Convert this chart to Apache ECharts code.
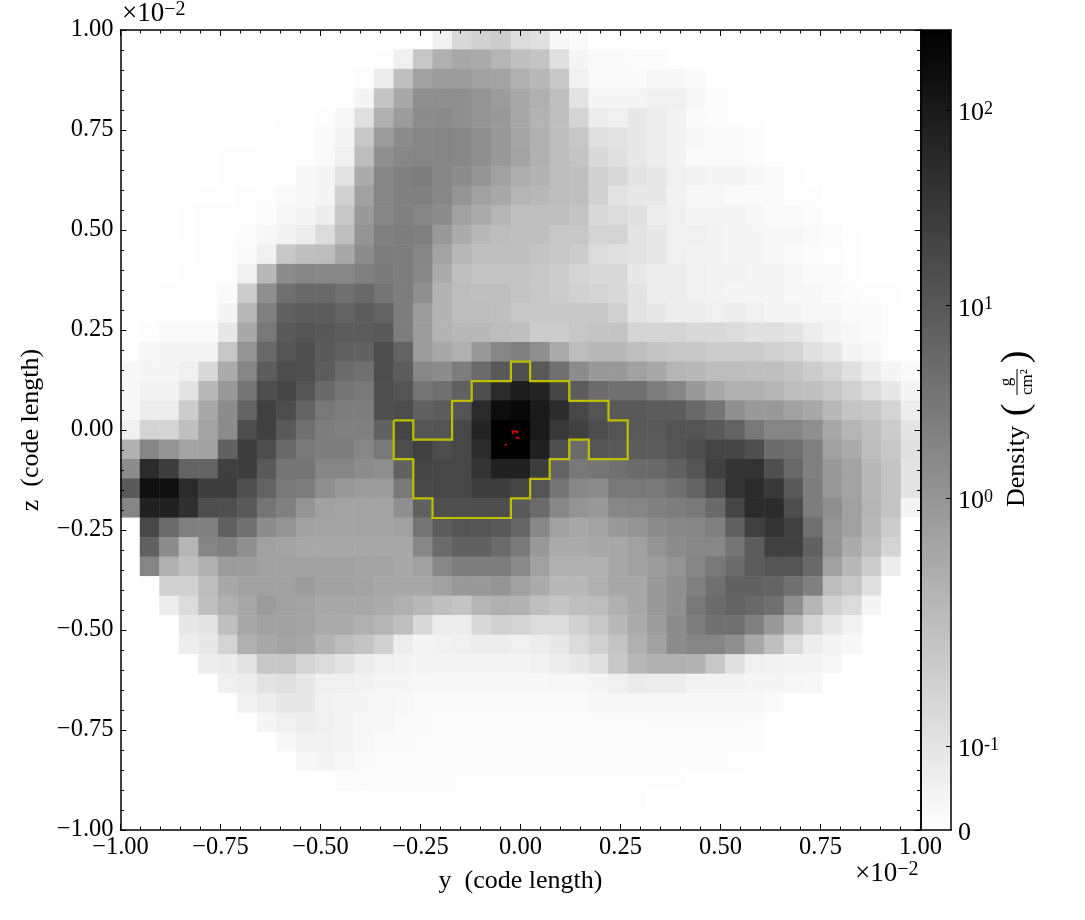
<!DOCTYPE html>
<html>
<head>
<meta charset="utf-8">
<script src="https://cdn.jsdelivr.net/npm/echarts@6/dist/echarts.min.js"></script>
<style>html,body{margin:0;padding:0;background:#fff}#main{width:1085px;height:920px}</style>
</head>
<body>
<div id="main"></div>
<script>
// Density on the colour bar's symlog scale (0 = density 0, 100 = top of the bar), top row first.
const densityRows = [
[0,0,0,0,0,0,0,0,0,0,0,0,0,0,0,0,5,15,18,20,14,12,3,2,0,0,0,0,0,0,0,0,0,0,0,0,0,0,0,0,0],
[0,0,0,0,0,0,0,0,0,0,0,0,0,.6,6,22,31,34,33,29,25,23,12,4,2,2,1,1,0,0,0,0,0,0,0,0,0,0,0,0,0],
[0,0,0,0,0,0,0,0,0,0,0,.4,.6,7,25,37,39,39,37,36,31,28,22,6,2,2,2,3,3,2,0,0,0,0,0,0,0,0,0,0,0],
[0,0,0,0,0,0,0,0,0,.4,.4,.6,4,23,34,44,44,44,42,39,34,31,25,11,4,4,4,6,6,3,1,.6,.4,0,0,0,0,0,0,0,0],
[0,0,0,0,0,0,0,0,.4,.4,.6,3,12,31,39,45,46,44,42,40,34,30,25,17,7,6,9,7,5,2,1,.6,.4,0,0,0,0,0,0,0,0],
[0,0,0,0,0,0,0,.4,.4,.6,2,4,22,39,45,48,48,47,44,40,35,31,26,22,12,11,9,7,5,3,2,2,1,.4,0,0,0,0,0,0,0],
[0,0,0,0,0,.4,.4,.4,.4,.6,2,6,26,44,47,48,48,47,44,40,36,31,26,23,15,12,9,7,5,2,2,2,1,.4,0,0,0,0,0,0,0],
[0,0,0,0,0,.4,.4,.6,.8,3,4,11,33,48,50,51,48,45,42,37,32,30,26,25,18,15,11,9,6,5,4,4,3,2,.8,.4,0,0,0,0,0],
[0,0,0,0,.4,.4,.6,.8,2,3,4,18,37,48,50,50,47,42,37,34,29,28,26,25,18,11,9,9,5,3,3,2,2,2,.8,.6,0,0,0,0,0],
[0,0,0,.4,.6,.6,.8,1,3,4,7,22,40,48,50,48,45,37,33,29,25,25,25,23,15,14,12,7,6,4,4,4,3,2,2,1,.4,0,0,0,0],
[0,0,0,.4,.6,.6,1,3,5,7,14,25,42,50,51,50,40,33,28,26,25,25,22,22,17,17,11,9,6,6,5,4,4,3,3,2,1,.4,0,0,0],
[0,0,.4,.4,.6,.8,2,6,22,25,26,34,45,51,51,48,36,28,25,25,25,23,22,20,14,12,11,9,6,5,5,4,4,3,2,1,.8,.4,0,0,0],
[0,.4,.4,.6,.6,.8,6,28,45,48,47,47,50,52,51,47,33,25,23,23,23,22,20,17,15,15,9,7,7,6,5,5,4,4,3,2,2,.8,.4,0,0],
[0,.4,.6,.6,.8,2,20,44,56,59,59,56,59,54,51,44,30,26,25,25,23,22,20,18,17,15,11,7,7,6,5,4,4,4,3,3,2,1,.8,.4,0],
[0,.4,.6,.8,.8,4,28,50,62,64,64,61,64,61,51,39,30,26,26,25,22,22,22,22,22,18,11,9,7,7,6,7,6,4,4,3,3,2,2,.6,0],
[0,.8,2,2,2,9,34,53,65,67,66,64,64,65,51,39,30,28,28,26,25,20,20,22,23,23,17,17,17,15,15,14,12,12,11,7,4,3,2,.8,0],
[.6,3,4,4,4,22,42,59,67,69,65,62,62,70,61,39,34,31,40,47,50,44,33,26,28,28,25,23,22,22,20,20,20,18,17,12,9,4,3,.8,0],
[3,4,4,6,15,33,48,64,70,69,64,58,56,70,64,47,45,51,58,65,69,65,56,45,40,40,37,34,29,28,26,26,25,25,23,20,17,12,7,4,2],
[3,5,5,11,28,40,54,70,73,67,59,54,53,69,67,54,56,62,70,83,89,86,73,64,58,56,56,51,48,40,34,31,31,29,26,25,22,18,14,9,4],
[3,7,7,20,34,45,61,75,70,61,53,51,51,69,70,62,64,67,83,95,97,90,83,72,67,65,65,64,64,59,54,44,40,40,37,34,28,23,22,17,7],
[6,17,17,25,36,45,70,75,65,56,51,50,50,62,73,67,67,72,86,100,100,90,78,75,70,67,65,65,67,67,65,61,53,48,48,44,34,29,25,20,11],
[31,48,42,36,37,62,76,70,59,53,51,51,47,53,70,75,70,72,83,100,100,87,69,58,67,65,64,64,67,70,73,73,69,58,56,50,37,33,26,22,12],
[45,83,76,61,61,75,76,65,54,54,48,48,45,44,62,73,72,72,80,87,87,76,61,53,54,56,58,59,62,67,75,80,80,69,59,50,40,36,28,23,11],
[65,94,94,83,76,76,69,61,53,51,44,40,39,39,53,72,72,72,76,76,73,67,54,47,45,53,53,53,56,61,69,80,83,78,65,51,40,36,28,23,11],
[48,87,87,81,70,69,65,54,50,42,37,36,36,36,44,62,69,69,70,70,65,58,47,42,40,47,48,50,51,53,59,73,83,83,70,51,44,37,29,23,4],
[0,72,58,50,50,62,56,45,42,37,36,36,36,36,37,54,64,67,67,65,60,47,37,34,36,40,42,45,47,48,50,62,75,80,75,56,42,37,28,20,0],
[0,62,45,29,48,50,44,37,36,34,34,34,34,34,34,47,58,62,62,58,52,40,33,33,34,34,37,42,45,47,47,54,64,75,75,62,42,33,26,17,0],
[0,48,31,25,31,39,39,37,37,37,37,37,36,36,34,37,47,51,51,51,46,37,31,31,31,34,37,39,42,48,53,58,64,67,67,59,37,28,20,7,0],
[0,0,18,18,26,34,37,37,37,39,37,37,36,34,34,34,37,40,40,42,37,33,28,28,31,34,34,40,44,50,56,62,62,61,56,50,26,22,12,0,0],
[0,0,7,14,25,31,34,39,37,36,34,34,34,33,31,28,25,23,29,31,30,25,23,25,26,31,34,40,44,53,58,61,59,56,44,29,18,14,4,0,0],
[0,0,0,9,11,25,34,37,37,36,33,33,31,29,25,15,7,7,15,18,17,14,14,18,22,28,33,39,45,51,56,56,50,40,28,17,9,5,0,0,0],
[0,0,0,7,9,17,31,34,36,34,30,26,23,18,7,4,5,6,7,7,6,7,9,14,18,23,31,37,45,48,48,44,34,25,14,7,4,3,0,0,0],
[0,0,0,0,7,8,11,22,22,17,14,11,7,6,5,4,4,4,4,4,4,5,7,9,12,22,28,31,31,30,22,12,6,5,4,4,3,0,0,0,0],
[0,0,0,0,0,6,7,11,12,9,6,6,5,4,4,3.5,3,3,3,3,3,3,3.5,3.5,4,6,8,7,7,5,5,5,4,4,3.5,3,0,0,0,0,0],
[0,0,0,0,0,0,5,7,9,9,5,4,4,3.5,3,2.5,2.5,2,2,2,2,2,2.5,2.5,3,3,3,3,3,3,3,3,3,2.5,0,0,0,0,0,0,0],
[0,0,0,0,0,0,0,4,6,7,6,4,3,3,2.5,2,1.5,1.5,1.5,1.5,1.5,1.5,1.5,1.5,1.5,1.5,1.5,2,2,2,2,2,1.5,0,0,0,0,0,0,0,0],
[0,0,0,0,0,0,0,0,3,5,5,4,3,2.5,2,1.5,1.5,1.5,1.2,1.2,1.2,1.2,1.2,1.2,1.2,1.2,1.2,1.2,1.2,1.2,1.2,1.2,1,0,0,0,0,0,0,0,0],
[0,0,0,0,0,0,0,0,0,3,4,3,2,1.5,1.5,1,1,1,1,1,1,1,1,1,1,1,1,1,1,1,1,.8,0,0,0,0,0,0,0,0,0],
[0,0,0,0,0,0,0,0,0,0,0,1.5,1,1,1,1,1,.8,.8,.8,.8,.8,.8,.8,.8,.8,.8,.8,.8,0,0,0,0,0,0,0,0,0,0,0,0],
[0,0,0,0,0,0,0,0,0,0,0,0,0,.6,.6,.6,.6,.6,.6,.6,.6,.6,.6,.6,.6,.6,.6,0,0,0,0,0,0,0,0,0,0,0,0,0,0],
[0,0,0,0,0,0,0,0,0,0,0,0,0,0,0,0,0,0,0,0,0,0,0,0,0,0,0,0,0,0,0,0,0,0,0,0,0,0,0,0,0]
];
const contourY = [-0.317,-0.268,-0.268,-0.171,-0.171,-0.122,-0.122,-0.024,-0.024,0.024,0.024,0.122,0.122,0.220,0.220,0.268,0.268,0.171,0.171,0.122,0.122,0.073,0.073,0.024,0.024,-0.024,-0.024,-0.220,-0.220,-0.268,-0.268,-0.317,-0.317];
const contourZ = [0.024,0.024,-0.024,-0.024,0.073,0.073,0.122,0.122,0.171,0.171,0.122,0.122,0.073,0.073,0.024,0.024,-0.073,-0.073,-0.024,-0.024,-0.073,-0.073,-0.122,-0.122,-0.171,-0.171,-0.220,-0.220,-0.171,-0.171,-0.073,-0.073,0.024];
const specksY = [-0.020,-0.015,-0.010,-0.009,-0.019,-0.009,-0.005,-0.037];
const specksZ = [-0.003,-0.003,-0.003,-0.005,-0.008,-0.019,-0.020,-0.037];
const barTickPos = [0,10.5,41.5,65.6,90];
const barTickLabels = ['{b|0}','{b|10}{s|-1}','{b|10}{s|0}','{b|10}{s|1}','{b|10}{s|2}'];
const exponentLabel = '{b|×10}{s|−2}';

const FONT = '"Liberation Serif","DejaVu Serif",serif';
const cats = densityRows[0].map((_, i) => i);
const cells = [];
densityRows.forEach((row, j) => row.forEach((v, i) => cells.push([i, densityRows.length - 1 - j, v])));
const specks = specksY.map((y, i) => [y, specksZ[i]]);
const contour = contourY.map((y, i) => [y, contourZ[i]]);
const fmt = v => v.toFixed(2).replace('-', '−');

const line = {show: true, onZero: false, lineStyle: {color: '#000', width: 1.5}};
const tick = {show: true, inside: true, length: 6, lineStyle: {color: '#000', width: 1}};
const minor = {show: true, splitNumber: 5, length: 3.5, lineStyle: {color: '#000', width: 1}};
const valueAxis = extra => Object.assign({
  type: 'value', gridIndex: 0, min: -1, max: 1, interval: 0.25, z: 10,
  axisLine: line, axisTick: tick, minorTick: minor, splitLine: {show: false},
  axisLabel: {show: false}
}, extra);
const lab = m => ({show: true, margin: m, color: '#000', fontFamily: FONT, fontSize: 24.5, formatter: fmt});
const nameSt = {color: '#000', fontFamily: FONT, fontSize: 26};
const barAxis = extra => Object.assign({
  type: 'value', gridIndex: 1, min: 0, max: 1, z: 10, axisLine: line,
  axisTick: {show: false}, splitLine: {show: false}, axisLabel: {show: false}
}, extra);
const rich = {
  b: {fontFamily: FONT, fontSize: 26, color: '#000'},
  s: {fontFamily: FONT, fontSize: 18, color: '#000', verticalAlign: 'top', padding: [0, 0, 8, 0]}
};
const richExp = {
  b: {fontFamily: FONT, fontSize: 27, color: '#000'},
  s: {fontFamily: FONT, fontSize: 20, color: '#000', verticalAlign: 'top', padding: [0, 0, 8, 0]}
};

const chart = echarts.init(document.getElementById('main'), null, {renderer: 'canvas'});
chart.setOption({
  animation: false,
  backgroundColor: '#fff',
  grid: [
    {left: 120.5, top: 30, width: 800, height: 800, containLabel: false},
    {left: 920.5, top: 30, width: 30.5, height: 800, containLabel: false}
  ],
  xAxis: [
    {type: 'category', gridIndex: 0, data: cats, show: false},
    valueAxis({position: 'bottom', axisLabel: lab(5), name: 'y  (code length)', nameLocation: 'middle', nameGap: 38, nameTextStyle: nameSt}),
    valueAxis({position: 'top'}),
    barAxis({position: 'bottom'}),
    barAxis({position: 'top'})
  ],
  yAxis: [
    {type: 'category', gridIndex: 0, data: cats, show: false},
    valueAxis({position: 'left', axisLabel: lab(7), name: 'z  (code length)', nameLocation: 'middle', nameGap: 76, nameTextStyle: nameSt}),
    valueAxis({position: 'right'}),
    barAxis({position: 'left', max: 100}),
    barAxis({
      position: 'right', max: 100,
      axisTick: {show: true, inside: true, length: 5, customValues: barTickPos.slice(1), lineStyle: {color: '#000', width: 1}},
      axisLabel: {
        show: true, inside: false, margin: 7, customValues: barTickPos, align: 'left', padding: [7, 0, 0, 0],
        formatter: v => barTickLabels[barTickPos.indexOf(v)], rich
      }
    })
  ],
  visualMap: {
    type: 'continuous', seriesIndex: 0, dimension: 2, min: 0, max: 100, show: true,
    calculable: false, hoverLink: false, realtime: false, orient: 'vertical', padding: 0,
    left: 920.5, top: 30, itemWidth: 30.5, itemHeight: 800, text: null, borderWidth: 0,
    inRange: {color: ['#ffffff', '#000000']}
  },
  series: [
    {type: 'heatmap', xAxisIndex: 0, yAxisIndex: 0, data: cells, silent: true, progressive: 0, itemStyle: {borderWidth: 0}},
    {type: 'line', xAxisIndex: 1, yAxisIndex: 1, data: contour, symbol: 'none', silent: true, z: 5,
      lineStyle: {color: '#bfbf00', width: 2.2, join: 'miter'}},
    {type: 'scatter', xAxisIndex: 1, yAxisIndex: 1, data: specks, symbol: 'rect', symbolSize: 2, silent: true, z: 6,
      itemStyle: {color: '#ff0000'}}
  ],
  graphic: [
    {type: 'text', left: 122, top: 0, style: {text: exponentLabel, rich: richExp, fill: '#000'}},
    {type: 'text', left: 855, top: 860, style: {text: exponentLabel, rich: richExp, fill: '#000'}},
    {type: 'group', x: 1017, y: 507, rotation: Math.PI / 2, children: [
      {type: 'text', x: 0, y: 0, style: {text: 'Density', font: '26px ' + FONT, fill: '#000', textAlign: 'left', textVerticalAlign: 'middle'}},
      {type: 'text', x: 97, y: 0, style: {text: '(', font: '38px ' + FONT, fill: '#000', textAlign: 'center', textVerticalAlign: 'middle'}},
      {type: 'text', x: 125, y: -10, style: {text: 'g', font: '17px ' + FONT, fill: '#000', textAlign: 'center', textVerticalAlign: 'middle'}},
      {type: 'line', shape: {x1: 112, y1: 0, x2: 138, y2: 0}, style: {stroke: '#000', lineWidth: 1}},
      {type: 'text', x: 125, y: 11, style: {text: 'cm²', font: '17px ' + FONT, fill: '#000', textAlign: 'center', textVerticalAlign: 'middle'}},
      {type: 'text', x: 150, y: 0, style: {text: ')', font: '38px ' + FONT, fill: '#000', textAlign: 'center', textVerticalAlign: 'middle'}}
    ]}
  ]
});
</script>
</body>
</html>
